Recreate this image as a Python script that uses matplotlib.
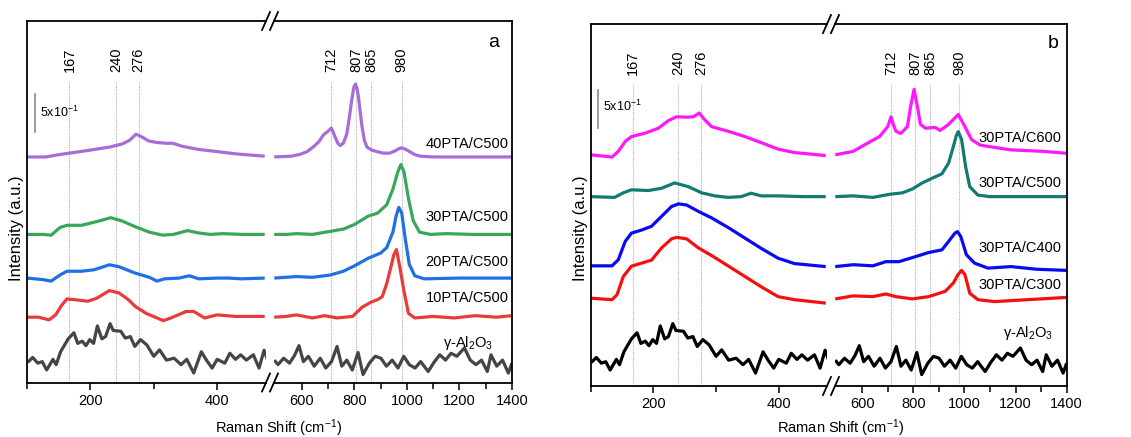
import numpy as np
import matplotlib
matplotlib.use('Agg')
import matplotlib.pyplot as plt
from matplotlib.lines import Line2D

plt.rcParams['font.family'] = ['Liberation Sans', 'DejaVu Sans']
plt.rcParams['mathtext.fontset'] = 'custom'
plt.rcParams['mathtext.rm'] = 'Liberation Sans'
plt.rcParams['mathtext.it'] = 'Liberation Sans:italic'
plt.rcParams['mathtext.default'] = 'regular'

W, H = 1131, 437

# %% data
# x in cm-1, y = intensity (a.u.) above each trace's own baseline
# each trace is split in a low (<480) and high (>490) part because of the axis break

peaks = [167, 240, 276, 712, 807, 865, 980]

# ---- panel a : xPTA/C500 series
a40_lo_x = [100, 130, 150, 167, 200, 230, 250, 262, 272, 282, 292, 305, 320, 330, 345, 370, 400, 430, 475]
a40_lo_y = [0.00, 0.00, 0.03, 0.05, 0.09, 0.13, 0.17, 0.22, 0.30, 0.26, 0.21, 0.19, 0.18, 0.18, 0.14, 0.10, 0.07, 0.04, 0.01]
a40_hi_x = [495, 560, 594, 620, 643, 665, 682, 700, 712, 720, 727, 737, 746, 758, 771, 782, 790, 798, 804, 810,
            816, 822, 829, 838, 848, 866, 886, 910, 935, 955, 970, 981, 995, 1013, 1030, 1051, 1100, 1250, 1400]
a40_hi_y = [0.00, 0.01, 0.035, 0.07, 0.13, 0.20, 0.29, 0.34, 0.38, 0.32, 0.26, 0.18, 0.15, 0.18, 0.30, 0.55, 0.75, 0.92, 0.96, 0.90,
            0.78, 0.60, 0.40, 0.22, 0.13, 0.09, 0.07, 0.05, 0.05, 0.08, 0.11, 0.12, 0.10, 0.065, 0.03, 0.01, 0.00, 0.00, 0.00]

a30_lo_x = [100, 125, 138, 152, 163, 186, 201, 215, 232, 249, 271, 293, 314, 331, 353, 370, 389, 409, 440, 475]
a30_lo_y = [0.00, 0.00, -0.01, 0.09, 0.12, 0.12, 0.15, 0.18, 0.22, 0.18, 0.10, 0.03, -0.01, 0.00, 0.05, 0.02, 0.00, 0.01, 0.00, 0.00]
a30_hi_x = [495, 540, 580, 640, 708, 758, 800, 852, 888, 923, 947, 965, 977, 989, 1006, 1024, 1048, 1090, 1150, 1250, 1400]
a30_hi_y = [0.00, 0.00, 0.01, 0.00, 0.04, 0.07, 0.13, 0.24, 0.28, 0.39, 0.60, 0.82, 0.92, 0.82, 0.47, 0.18, 0.03, 0.00, 0.01, 0.00, 0.00]

a20_lo_x = [100, 125, 138, 152, 163, 186, 206, 230, 245, 269, 293, 305, 317, 340, 356, 371, 400, 419, 438, 475]
a20_lo_y = [0.00, -0.02, -0.04, 0.04, 0.09, 0.09, 0.11, 0.175, 0.15, 0.07, 0.01, -0.04, -0.01, 0.00, 0.03, -0.01, 0.00, 0.00, -0.01, 0.00]
a20_hi_x = [495, 580, 640, 708, 758, 800, 852, 900, 923, 947, 959, 969, 980, 994, 1009, 1030, 1066, 1200, 1400]
a20_hi_y = [0.00, 0.02, 0.01, 0.04, 0.09, 0.16, 0.26, 0.33, 0.40, 0.61, 0.82, 0.93, 0.86, 0.51, 0.18, 0.03, -0.01, 0.00, 0.00]

a10_lo_x = [100, 118, 135, 145, 155, 163, 176, 196, 210, 230, 245, 260, 271, 288, 315, 327, 351, 363, 380, 400, 429, 475]
a10_lo_y = [0.00, 0.00, -0.035, 0.03, 0.16, 0.24, 0.23, 0.21, 0.25, 0.35, 0.32, 0.23, 0.14, 0.05, -0.045, -0.01, 0.075, 0.075, -0.01, 0.03, 0.01, 0.01]
a10_hi_x = [495, 540, 580, 640, 687, 734, 793, 829, 864, 888, 906, 923, 941, 950, 960, 971, 989, 1006, 1030, 1100, 1180, 1260, 1340, 1400]
a10_hi_y = [0.00, 0.01, 0.03, -0.01, 0.02, -0.01, 0.01, 0.13, 0.20, 0.23, 0.27, 0.44, 0.69, 0.82, 0.89, 0.70, 0.34, 0.05, -0.01, 0.01, -0.01, 0.02, 0.00, 0.02]

# ---- gamma-Al2O3 support (same spectrum in both panels)
al_lo_x = [101, 109, 117, 124, 131, 141, 146, 153, 165, 174, 180, 187, 193, 199, 205, 211, 218, 224, 231, 236,
           248, 255, 263, 270, 279, 289, 300, 309, 320, 332, 343, 352, 363, 375, 383, 392, 400, 412, 420, 429,
           437, 446, 457, 466, 474, 480]
al_lo_y = [0.01, 0.075, 0.00, 0.02, -0.09, 0.05, -0.02, 0.15, 0.32, 0.40, 0.26, 0.29, 0.23, 0.31, 0.26, 0.49, 0.32, 0.35, 0.52, 0.43,
           0.42, 0.33, 0.35, 0.22, 0.31, 0.24, 0.09, 0.175, 0.04, 0.065, -0.02, 0.05, -0.13, 0.15, 0.04, -0.065, 0.05, 0.00, 0.13, 0.05,
           0.11, 0.04, 0.11, -0.065, 0.17, 0.03]
al_hi_x = [495, 509, 531, 553, 572, 589, 606, 625, 647, 670, 691, 713, 734, 752, 771, 792, 814, 833, 857, 879,
           901, 922, 944, 966, 988, 1009, 1031, 1052, 1081, 1103, 1125, 1147, 1168, 1190, 1219, 1241, 1263, 1284, 1306, 1320,
           1342, 1364, 1386, 1400]
al_hi_y = [0.04, -0.02, 0.065, 0.00, 0.10, 0.23, 0.02, 0.09, -0.04, 0.065, -0.065, 0.02, 0.22, -0.04, 0.04, -0.09, 0.14, -0.15, 0.00, 0.09,
           0.065, -0.04, 0.04, -0.065, 0.09, -0.02, -0.065, 0.02, -0.11, 0.01, 0.11, 0.04, 0.13, 0.09, 0.20, 0.04, -0.02, 0.04, -0.11, 0.11,
           -0.04, 0.04, -0.13, 0.00]

# ---- panel b : 30PTA calcined at different T
b600_lo_x = [100, 134, 144, 155, 165, 187, 208, 224, 237, 253, 264, 273, 282, 293, 319, 346, 372, 399, 425, 475]
b600_lo_y = [0.00, -0.03, 0.045, 0.175, 0.24, 0.285, 0.35, 0.45, 0.50, 0.495, 0.50, 0.55, 0.46, 0.37, 0.31, 0.24, 0.16, 0.075, 0.03, -0.01]
b600_hi_x = [495, 565, 617, 668, 700, 713, 722, 732, 751, 777, 790, 803, 816, 828, 848, 886, 905, 938, 976, 1002,
             1028, 1060, 1092, 1182, 1310, 1400]
b600_hi_y = [0.00, 0.045, 0.145, 0.24, 0.37, 0.50, 0.40, 0.31, 0.28, 0.37, 0.64, 0.86, 0.64, 0.40, 0.35, 0.36, 0.32, 0.40, 0.53, 0.37,
             0.20, 0.13, 0.11, 0.065, 0.045, 0.02]

b500_lo_x = [100, 138, 152, 165, 192, 213, 234, 256, 277, 298, 319, 340, 356, 372, 399, 440, 475]
b500_lo_y = [0.00, -0.01, 0.05, 0.09, 0.08, 0.11, 0.18, 0.13, 0.05, 0.01, -0.01, 0.00, 0.045, 0.01, 0.01, 0.00, 0.00]
b500_hi_x = [495, 565, 642, 706, 758, 796, 835, 873, 912, 938, 957, 968, 976, 989, 1005, 1021, 1053, 1100, 1400]
b500_hi_y = [0.00, 0.01, -0.01, 0.03, 0.05, 0.10, 0.18, 0.24, 0.30, 0.44, 0.66, 0.80, 0.855, 0.75, 0.39, 0.13, 0.02, 0.00, 0.00]

b400_lo_x = [100, 134, 144, 155, 165, 181, 197, 213, 229, 240, 253, 272, 293, 320, 346, 372, 399, 425, 475]
b400_lo_y = [0.00, 0.00, 0.08, 0.32, 0.43, 0.47, 0.52, 0.65, 0.78, 0.815, 0.80, 0.715, 0.63, 0.50, 0.365, 0.23, 0.10, 0.03, -0.01]
b400_hi_x = [495, 565, 642, 693, 744, 808, 860, 912, 938, 963, 973, 986, 1008, 1040, 1092, 1182, 1284, 1400]
b400_hi_y = [-0.01, 0.015, 0.00, 0.055, 0.055, 0.12, 0.175, 0.21, 0.32, 0.43, 0.45, 0.385, 0.145, 0.035, -0.03, -0.01, -0.045, -0.06]

b300_lo_x = [100, 134, 142, 152, 165, 181, 197, 213, 229, 237, 253, 272, 293, 320, 346, 372, 399, 425, 475]
b300_lo_y = [0.00, -0.02, 0.045, 0.285, 0.42, 0.46, 0.50, 0.66, 0.78, 0.80, 0.78, 0.66, 0.56, 0.42, 0.285, 0.15, 0.02, -0.02, -0.065]
b300_hi_x = [495, 565, 642, 693, 732, 796, 860, 925, 957, 975, 989, 1002, 1021, 1053, 1118, 1246, 1400]
b300_hi_y = [-0.01, 0.03, 0.02, 0.055, 0.02, -0.01, 0.02, 0.09, 0.20, 0.31, 0.365, 0.31, 0.065, -0.02, -0.045, -0.02, 0.01]

names_a = ['40PTA/C500', '30PTA/C500', '20PTA/C500', '10PTA/C500', 'γ-Al$_2$O$_3$']
names_b = ['30PTA/C600', '30PTA/C500', '30PTA/C400', '30PTA/C300', 'γ-Al$_2$O$_3$']

# %% layout / style
LO_LIM = (100, 477)
HI_LIM = (494, 1400)
YLIM = (0, 4.76)
LW = 2.3


def px_axes(fig, left, right, top, bottom):
    return fig.add_axes([left / W, 1 - bottom / H, (right - left) / W, (bottom - top) / H])


def slash(fig, xc, yc):
    for dx in (-4, 4):
        fig.add_artist(Line2D([(xc + dx - 4) / W, (xc + dx + 4) / W],
                              [1 - (yc + 9) / H, 1 - (yc - 9) / H],
                              transform=fig.transFigure, color='k', lw=1.3))


def draw_panel(fig, box, brk, traces, names, offsets, colors, name_pos, letter_pos, bar, xlab_x):
    left, right, top, bottom = box
    ax_lo = px_axes(fig, left, brk - 4, top, bottom)
    ax_hi = px_axes(fig, brk + 4, right, top, bottom)

    for ax, lim in ((ax_lo, LO_LIM), (ax_hi, HI_LIM)):
        ax.set_xlim(lim)
        ax.set_ylim(YLIM)
        ax.set_yticks([])
        for s in ax.spines.values():
            s.set_linewidth(1.3)
        ax.tick_params(axis='x', direction='out', length=5, width=1.1, labelsize=10.5, pad=3)
        ax.tick_params(axis='x', which='minor', direction='out', length=4, width=1.1)
    ax_lo.spines['right'].set_visible(False)
    ax_hi.spines['left'].set_visible(False)
    ax_lo.set_xticks([200, 400])
    ax_lo.set_xticks([100, 300], minor=True)
    ax_hi.set_xticks([600, 800, 1000, 1200, 1400])
    ax_hi.set_xticks([700, 900, 1100, 1300], minor=True)

    # reference lines
    for p in peaks:
        ax = ax_lo if p < 490 else ax_hi
        ax.plot([p, p], [0, 3.96], color='#b0b0b0', lw=0.8, ls=(0, (1, 1)), zorder=0)
        ax.text(p, 4.09, str(p), rotation=90, ha='center', va='bottom', fontsize=10.5)

    for (lx, ly, hx, hy), off, c in zip(traces, offsets, colors):
        ax_lo.plot(lx, np.array(ly) + off, color=c, lw=LW, solid_joinstyle='round', solid_capstyle='butt')
        ax_hi.plot(hx, np.array(hy) + off, color=c, lw=LW, solid_joinstyle='round', solid_capstyle='butt')

    for name, (nx, ny) in zip(names, name_pos):
        ax_hi.text(nx, ny, name, ha='right', va='center', fontsize=10.5)

    ax_hi.text(letter_pos[0], letter_pos[1], letter_pos[2], ha='center', va='center', fontsize=14)

    bx, by0, by1, ty = bar
    ax_lo.plot([bx, bx], [by0, by1], color='#8a8a8a', lw=1.2)
    ax_lo.text(bx + 9, ty, '5x10$^{-1}$', fontsize=9, va='center', ha='left')

    slash(fig, brk, top)
    slash(fig, brk, bottom)

    fig.text(xlab_x / W, 1 - 428 / H, 'Raman Shift (cm$^{-1}$)', ha='center', va='center', fontsize=10.5)
    fig.text((left - 10) / W, 1 - 228 / H, 'Intensity (a.u.)', rotation=90, ha='center', va='center', fontsize=12)


fig = plt.figure(figsize=(W / 100, H / 100), dpi=100)

traces_a = [(a40_lo_x, a40_lo_y, a40_hi_x, a40_hi_y),
            (a30_lo_x, a30_lo_y, a30_hi_x, a30_hi_y),
            (a20_lo_x, a20_lo_y, a20_hi_x, a20_hi_y),
            (a10_lo_x, a10_lo_y, a10_hi_x, a10_hi_y),
            (al_lo_x, al_lo_y, al_hi_x, al_hi_y)]
draw_panel(fig, (27, 512, 21, 382.5), 270, traces_a, names_a,
           [2.97, 1.95, 1.375, 0.86, 0.255],
           ['#a66dd8', '#3aa65a', '#1f6fe5', '#ea3a3a', '#454545'],
           [(1387, 3.14), (1387, 2.18), (1387, 1.59), (1387, 1.11), (1329, 0.52)],
           (1329, 4.48, 'a'), (112, 3.30, 3.80, 3.55), 279)

traces_b = [(b600_lo_x, b600_lo_y, b600_hi_x, b600_hi_y),
            (b500_lo_x, b500_lo_y, b500_hi_x, b500_hi_y),
            (b400_lo_x, b400_lo_y, b400_hi_x, b400_hi_y),
            (b300_lo_x, b300_lo_y, b300_hi_x, b300_hi_y),
            (al_lo_x, al_lo_y, al_hi_x, al_hi_y)]
draw_panel(fig, (590.7, 1066.7, 24, 386), 831, traces_b, names_b,
           [3.04, 2.49, 1.58, 1.155, 0.30],
           ['#ff17ff', '#127a72', '#0a0af0', '#f51010', '#000000'],
           [(1380, 3.26), (1380, 2.67), (1380, 1.82), (1380, 1.33), (1348, 0.70)],
           (1347, 4.51, 'b'), (111, 3.39, 3.89, 3.67), 841)

fig.savefig('out.png', dpi=100)
